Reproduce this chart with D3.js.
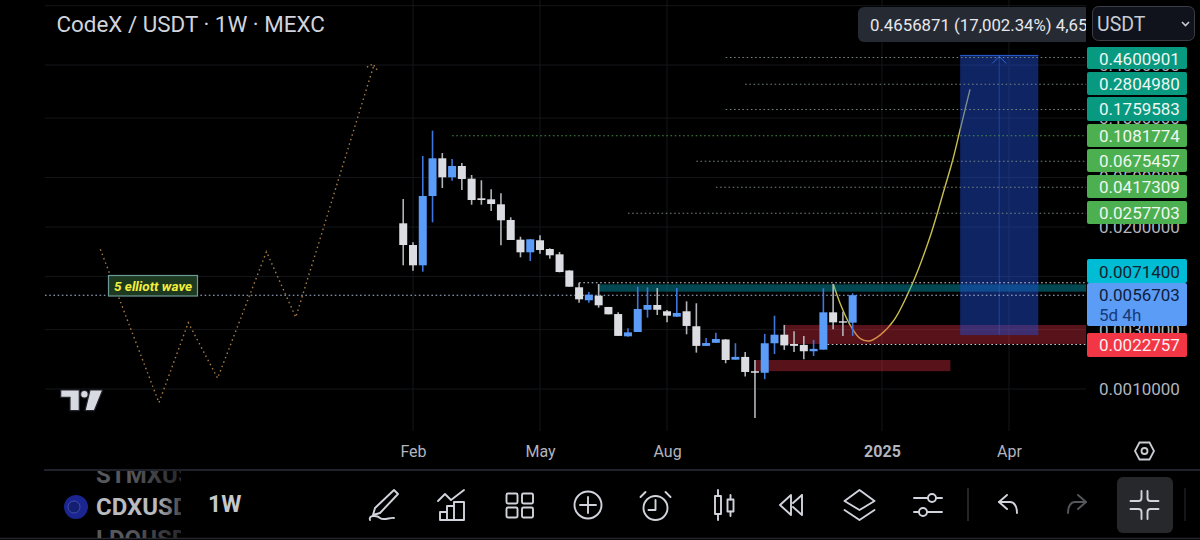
<!DOCTYPE html>
<html><head><meta charset="utf-8">
<style>
html,body{margin:0;padding:0;background:#000;overflow:hidden}
svg{display:block}
text{font-family:Roboto,sans-serif}
</style>
<script src="https://cdnjs.cloudflare.com/ajax/libs/d3/7.8.5/d3.min.js"></script>
</head><body>
<script>
// ---------- data ----------
const firstWeek = "2024-01-29";
const opens  = [.02142,.01434,.00985,.0355,.07128,.05017,.06182,.0489,.03402,.03339,.03044,.02277,.01582,.01253,.01565,.01332,.01207,.00895,.00656,.00516,.00562,.00456,.0040,.00265,.00287,.00433,.00473,.00421,.00381,.00421,.00319,.00222,.00235,.0025,.00172,.00181,.00139,.00135,.00233,.00273,.0023,.00226,.00201,.00207,.00413,.0035,.00341];
const closes = [.01434,.00985,.0355,.07128,.05017,.06182,.04861,.03296,.03296,.03061,.02265,.01573,.01253,.01594,.01307,.01186,.0087,.00663,.00525,.00572,.0047,.00398,.00267,.00285,.00439,.00473,.00433,.00388,.00408,.00321,.00222,.00234,.00252,.00171,.00181,.00137,.00135,.00233,.00273,.00224,.00222,.00201,.0021,.00413,.00343,.00341,.0056703];
const highs  = [.03358,.01508,.07438,.1188,.07863,.07036,.06534,.05235,.04746,.04018,.03732,.02394,.01672,.016,.01716,.01349,.0126,.00898,.00714,.00601,.00697,.00456,.00413,.00307,.00663,.00656,.00648,.00431,.00648,.00506,.00488,.00257,.00283,.00251,.00233,.00198,.00171,.00277,.00388,.00327,.00291,.00267,.00248,.00644,.00697,.00418,.00587];
const lows   = [.00985,.00892,.00875,.02182,.04116,.04711,.03966,.03022,.03022,.02689,.01426,.01573,.01142,.01067,.01221,.01113,.00865,.00663,.00493,.00493,.0045,.00398,.00267,.00263,.00287,.00374,.00393,.00343,.00378,.00275,.00196,.00221,.00235,.00161,.00172,.00126,.000585,.0012,.00191,.00206,.00198,.00173,.00184,.00207,.00302,.00267,.00267];

const gridPrices = [.001,.003,.008,.02,.05,.15,.4,1.2];
const priceTicks = [.001,.003,.008,.02,.05,.15,.4];
const timeTickDates = ["2024-02-05","2024-05-06","2024-08-05","2025-01-06","2025-04-07"];
const timeTickLabels = ["Feb","May","Aug","2025","Apr"];

const waveDates  = ["2023-06-26","2023-08-07","2023-08-28","2023-09-18","2023-10-23","2023-11-13","2024-01-08"];
const wavePrices = [.01325,.000776,.00341,.00122,.01267,.00377,.400];

const curveWeeks  = [43.02,43.7,44.73,45.75,46.7,47.8,49.23,51.2,52.92,54.45,55.24,55.99,57.01]; // weeks after 2024-02-05
const curvePrices = [.00697,.00491,.00327,.00255,.00243,.00271,.00358,.00728,.01672,.04216,.06907,.1203,.2554];

const targetPrices = [.4600901,.2804980,.1759583,.1081774,.0675457,.0417309,.0257703];
const targetStarts = ["2024-09-16","2024-09-30","2024-09-16","2024-03-04","2024-08-26","2024-09-09","2024-07-08"];

const lastPrice = .0056703, resistance = .00714, support = .0022757;
const resistanceStart = "2024-06-03", supportStart = "2024-11-25";
const tealZone = {start:"2024-06-17", top:.00693, bottom:.00605};
const redZoneA = {start:"2024-10-28", top:.00327, bottom:.0023};
const redZoneB = {start:"2024-10-07", end:"2025-02-24", top:.00171, bottom:.00139};
const projection = {start:"2025-03-03", mid:"2025-03-31", end:"2025-04-28", top:.478, bottom:.00271};

const targetLabels = ["0.4600901","0.2804980","0.1759583","0.1081774","0.0675457","0.0417309","0.0257703"];

// ---------- setup ----------
const W=1200,H=540;
const parse=d3.utcParse("%Y-%m-%d");
const svg=d3.select("body").append("svg").attr("width",W).attr("height",H).style("background","#000");
const x=d3.scaleUtc().domain([parse("2024-02-05"),parse("2025-04-07")]).range([413,1009]);
const y=d3.scaleLog().domain([.001,.1]).range([389,140]);
const L=45,R=1086,gridBottom=431;
const weekAfter=(d,w)=>new Date(+d+w*7*864e5);

const defs=svg.append("defs");
defs.append("clipPath").attr("id","plot").append("rect").attr("x",L).attr("y",0).attr("width",R-L).attr("height",gridBottom);
defs.append("clipPath").attr("id","tip").append("rect").attr("x",858).attr("y",7).attr("width",228).attr("height",35);
defs.append("clipPath").attr("id","sym").append("rect").attr("x",90).attr("y",471).attr("width",91).attr("height",67);
const gr=defs.append("linearGradient").attr("id","fade").attr("gradientUnits","userSpaceOnUse").attr("x1",156).attr("x2",182).attr("y1",0).attr("y2",0);
gr.append("stop").attr("offset",0).attr("stop-color","#b9bbc0");
gr.append("stop").attr("offset",1).attr("stop-color","#3a3b3e");
const gr2=defs.append("linearGradient").attr("id","fade2").attr("gradientUnits","userSpaceOnUse").attr("x1",130).attr("x2",182).attr("y1",0).attr("y2",0);
gr2.append("stop").attr("offset",0).attr("stop-color","#57585c");
gr2.append("stop").attr("offset",1).attr("stop-color","#26272a");

// ---------- grid ----------
const grid=svg.append("g");
grid.selectAll("line.h").data(gridPrices).join("line").attr("class","h").attr("x1",L).attr("x2",R).attr("y1",d=>y(d)).attr("y2",d=>y(d)).attr("stroke","#151619");
grid.selectAll("line.v").data(timeTickDates).join("line").attr("class","v").attr("y1",0).attr("y2",gridBottom).attr("x1",d=>x(parse(d))).attr("x2",d=>x(parse(d))).attr("stroke","#151619");

// ---------- price axis ----------
const yAxis=svg.append("g").attr("transform","translate(1086,0)").call(d3.axisRight(y).tickValues(priceTicks).tickFormat(d3.format(".7f")).tickSize(0).tickPadding(13));
yAxis.select(".domain").remove();
yAxis.selectAll("text").attr("fill","#b2b5be").style("font-size","17px").style("font-family","Roboto");

// ---------- time axis ----------
const xAxis=svg.append("g").attr("transform","translate(0,451)").call(d3.axisBottom(x).tickValues(timeTickDates.map(parse)).tickFormat((d,i)=>timeTickLabels[i]).tickSize(0).tickPadding(0));
xAxis.select(".domain").remove();
xAxis.selectAll("text").attr("dy","0.36em").attr("fill","#b2b5be").style("font-size","16px").style("font-family","Roboto")
  .style("font-weight",(d,i)=>timeTickLabels[i]==="2025"?"700":"400");

const plot=svg.append("g").attr("clip-path","url(#plot)");

// ---------- projected curve (sits below the zones) ----------
const curveBase=parse("2024-02-05");
plot.append("path").datum(curveWeeks.map((w,i)=>[weekAfter(curveBase,w),curvePrices[i]]))
  .attr("fill","none").attr("stroke","#c9be4e").attr("stroke-width",1.4)
  .attr("d",d3.line().x(d=>x(d[0])).y(d=>y(d[1])).curve(d3.curveCatmullRom));

// ---------- zones ----------
function zone(z,fill,op){
  const x0=x(parse(z.start)),x1=z.end?x(parse(z.end)):R;
  plot.append("rect").attr("x",x0).attr("width",x1-x0).attr("y",y(z.top)).attr("height",y(z.bottom)-y(z.top)).attr("fill",fill).attr("opacity",op);
}
zone(tealZone,"#00bcd4",.38);
zone(redZoneA,"#f23645",.36);
zone(redZoneB,"#f23645",.36);
zone({start:projection.start,end:projection.end,top:projection.top,bottom:projection.bottom},"#2150dc",.45);

const mid=x(parse(projection.mid));
plot.append("line").attr("x1",mid).attr("x2",mid).attr("y1",y(projection.top)).attr("y2",y(projection.bottom)).attr("stroke","#2f66d8").attr("stroke-width",1).attr("opacity",.5);
plot.append("path").attr("fill","none").attr("stroke","#2f66d8").attr("stroke-width",1)
  .attr("d",`M${mid-7},${y(projection.top)+8}L${mid},${y(projection.top)+1}L${mid+7},${y(projection.top)+8}`);
plot.append("line").attr("x1",x(parse(projection.start))).attr("x2",x(parse(projection.end))).attr("y1",y(projection.top)).attr("y2",y(projection.top)).attr("stroke","#2a5fd8");

// ---------- dotted levels ----------
function dotted(v,start,col,op){
  plot.append("line").attr("x1",start).attr("x2",R).attr("y1",y(v)).attr("y2",y(v))
    .attr("stroke",col).attr("stroke-width",1.1).attr("stroke-dasharray","1.6 2.6").attr("opacity",op||1);
}
targetPrices.forEach((v,i)=>dotted(v,x(parse(targetStarts[i])),i===3?"#4f9a4f":"#7f8f85",.9));
dotted(resistance,x(parse(resistanceStart)),"#c9ced6");
dotted(support,x(parse(supportStart)),"#c9ced6");
dotted(lastPrice,L,"#a9b8d6");

// ---------- candles ----------
const candles=opens.map((o,i)=>({d:d3.utcDay.offset(parse(firstWeek),i*7),o,c:closes[i],h:highs[i],l:lows[i]}));
const cg=svg.append("g").selectAll("g").data(candles).join("g");
cg.append("line").attr("x1",d=>x(d.d)).attr("x2",d=>x(d.d)).attr("y1",d=>y(d.h)).attr("y2",d=>y(d.l))
  .attr("stroke",d=>d.c>=d.o?"#3f76dc":"#b3b5bb").attr("stroke-width",1.6);
cg.append("rect").attr("x",d=>x(d.d)-4).attr("width",8)
  .attr("y",d=>Math.min(y(d.o),y(d.c))).attr("height",d=>Math.max(1.2,Math.abs(y(d.o)-y(d.c))))
  .attr("fill",d=>d.c>=d.o?"#5a9cf8":"#dcdde2");

// ---------- elliott wave ----------
const wavePts=waveDates.map((d,i)=>[parse(d),wavePrices[i]]);
plot.append("path").datum(wavePts).attr("fill","none").attr("stroke","#a47c45").attr("stroke-width",1.4).attr("stroke-dasharray","1.5 3.2")
  .attr("d",d3.line().x(d=>x(d[0])).y(d=>y(d[1])));
const tipX=x(wavePts[6][0]),tipY=y(wavePts[6][1]);
plot.append("path").attr("fill","none").attr("stroke","#a47c45").attr("stroke-width",1.4).attr("stroke-dasharray","1.5 2.6")
  .attr("d",`M${tipX-7},${tipY+2}L${tipX-1},${tipY-1}L${tipX+4},${tipY+6}`);

svg.append("rect").attr("x",108.5).attr("y",275.5).attr("width",89).attr("height",20.5).attr("fill","#1d3a20").attr("stroke","#6d9a98").attr("stroke-width",1.2);
svg.append("text").attr("x",153).attr("y",286).attr("dy","0.36em").attr("text-anchor","middle").attr("fill","#f5ee3b")
  .style("font-size","13.5px").style("font-weight","700").style("font-style","italic").text("5 elliott wave");

// ---------- TradingView logo ----------
const logo=svg.append("g").attr("fill","#d8dae2").attr("stroke","#23242c").attr("stroke-width",1.2);
logo.append("path").attr("d","M60.7,390H79.3V410.7H70V397.3H60.7Z");
logo.append("circle").attr("cx",84.4).attr("cy",394.3).attr("r",3.8);
logo.append("path").attr("d","M90,390H102.7L94.3,410.7H85Z");

// ---------- title ----------
svg.append("text").attr("x",56.5).attr("y",24).attr("dy","0.36em").attr("fill","#d1d4dc").style("font-size","22.4px").text("CodeX / USDT · 1W · MEXC");

// ---------- tooltip + currency ----------
svg.append("path").attr("d","M1086,7H864a6,6 0 0 0 -6,6V36a6,6 0 0 0 6,6H1086Z").attr("fill","#262a33");
svg.append("text").attr("clip-path","url(#tip)").attr("x",870).attr("y",25).attr("dy","0.36em").attr("fill","#e6e8ee").style("font-size","16.8px").text("0.4656871 (17,002.34%) 4,65");
svg.append("rect").attr("x",1092.5).attr("y",6.5).attr("width",102).attr("height",34).attr("rx",6).attr("fill","#10131b").attr("stroke","#3b3e47");
svg.append("text").attr("x",1097).attr("y",24).attr("dy","0.36em").attr("fill","#c8cbd3").style("font-size","19.5px").text("USDT");
svg.append("path").attr("d","M1182,22l3.5,3.5l3.5,-3.5").attr("fill","none").attr("stroke","#c8cbd3").attr("stroke-width",1.6);

// ---------- price labels ----------
const labelTops=[47,72,97,124,149,175,201];
const labelFill=["#089981","#089981","#089981","#4caf50","#4caf50","#4caf50","#4caf50"];
function tag(top,h,fill){svg.append("rect").attr("x",1087).attr("y",top).attr("width",100).attr("height",h).attr("rx",2).attr("fill",fill);}
function tagText(cy,t,c){svg.append("text").attr("x",1099).attr("y",cy).attr("dy","0.36em").attr("fill",c).style("font-size","17px").text(t);}
targetLabels.forEach((t,i)=>{tag(labelTops[i],i==0?22:(i==2?24:23),labelFill[i]);tagText(labelTops[i]+11.5,t,"#eef6f0");});
tag(259,24,"#00bcd4");tagText(271.5,d3.format(".7f")(resistance),"#10222c");
tag(283,43,"#5b9cf6");tagText(295,d3.format(".7f")(lastPrice),"#0f1c3c");tagText(315,"5d 4h","#173a78");
tag(333,24,"#f23645");tagText(345,d3.format(".7f")(support),"#fdeef0");

// ---------- separators ----------
svg.append("line").attr("x1",44).attr("x2",W).attr("y1",470).attr("y2",470).attr("stroke","#2a2e39").attr("stroke-width",1.4);
svg.append("line").attr("x1",0).attr("x2",W).attr("y1",538.5).attr("y2",538.5).attr("stroke","#25272d").attr("stroke-width",1.4);

// ---------- hex settings icon ----------
const hex=svg.append("g").attr("transform","translate(1144.5,451)").attr("fill","none").attr("stroke","#c9ccd3").attr("stroke-width",1.8);
hex.append("path").attr("d","M-9.5,0L-5,-8.5H5L9.5,0L5,8.5H-5Z");
hex.append("circle").attr("r",3);

// ---------- symbol strip ----------
svg.append("circle").attr("cx",76).attr("cy",507).attr("r",12).attr("fill","#1a2590");
svg.append("circle").attr("cx",74).attr("cy",507).attr("r",6).attr("fill","#151f72").attr("stroke","#4a58b4").attr("stroke-width",.8);
const sym=svg.append("g").attr("clip-path","url(#sym)").style("font-weight","700").style("font-size","24px");
sym.append("text").attr("x",96).attr("y",483).attr("fill","url(#fade2)").text("STMXUSDT");
sym.append("text").attr("x",96).attr("y",515).attr("fill","url(#fade)").text("CDXUSDT");
sym.append("text").attr("x",96).attr("y",547).attr("fill","url(#fade2)").text("LDOUSDT");
svg.append("text").attr("x",208).attr("y",512).attr("fill","#c6c8cc").style("font-weight","700").style("font-size","23px").text("1W");

// ---------- toolbar ----------
svg.append("rect").attr("x",1117).attr("y",477).attr("width",56).attr("height",56).attr("rx",6).attr("fill","#27282c");
[[968,"#34363c"],[1185,"#1f2024"]].forEach(([px,c])=>svg.append("line").attr("x1",px).attr("x2",px).attr("y1",488).attr("y2",521).attr("stroke",c).attr("stroke-width",1.4));
const icons=[
 [385,505,["M9,-15L13,-11L-5,8L-12,10L-10,3Z","M-15,15C-17,10 -8,10 -5,13C-1,16 5,12 9,13"]],
 [452,505,["M-12,15V7H-5V15ZM-5,15V1H2V15ZM2,15V-3H12V15Z","M-14,-4L-7,-11L-1,-5L12,-15"]],
 [519.5,505,["M-11.5,-11.5h8a1.5,1.5 0 0 1 1.5,1.5v7a1.5,1.5 0 0 1 -1.5,1.5h-8a1.5,1.5 0 0 1 -1.5,-1.5v-7a1.5,1.5 0 0 1 1.5,-1.5Z","M4,-11.5h8a1.5,1.5 0 0 1 1.5,1.5v7a1.5,1.5 0 0 1 -1.5,1.5h-8a1.5,1.5 0 0 1 -1.5,-1.5v-7a1.5,1.5 0 0 1 1.5,-1.5Z","M-11.5,2.5h8a1.5,1.5 0 0 1 1.5,1.5v7a1.5,1.5 0 0 1 -1.5,1.5h-8a1.5,1.5 0 0 1 -1.5,-1.5v-7a1.5,1.5 0 0 1 1.5,-1.5Z","M4,2.5h8a1.5,1.5 0 0 1 1.5,1.5v7a1.5,1.5 0 0 1 -1.5,1.5h-8a1.5,1.5 0 0 1 -1.5,-1.5v-7a1.5,1.5 0 0 1 1.5,-1.5Z"]],
 [588,505,["M-13.5,0a13.5,13.5 0 1 0 27,0a13.5,13.5 0 1 0 -27,0","M0,-8V8M-8,0H8"]],
 [655.5,505,["M-12,3a12,12 0 1 0 24,0a12,12 0 1 0 -24,0","M0,-5V5H-7","M-10,-13L-15,-8M10,-13L15,-8"]],
 [724.5,505,["M-9.5,-9h6v18h-6Z","M-6.5,-15V-9M-6.5,9V15","M3,-5.5h6v12h-6Z","M6,-10V-5.5M6,6.5V11"]],
 [791,505,["M0,-10L-11,0L0,10Z","M11,-10L2,-2M2,2L11,10V-10"]],
 [859.5,505,["M0,-15L15,-4L0,5L-15,-4Z","M-15,5L0,15L15,5"]],
 [928,505,["M-14,-7H0M8,-7H14","M0,-7a4,4 0 1 0 8,0a4,4 0 1 0 -8,0","M-14,7H-9M-1,7H14","M-9,7a4,4 0 1 0 8,0a4,4 0 1 0 -8,0"]],
 [1008,505,["M-1,-10L-9,-3L-1,4","M-9,-3H2C6,-3 9,1 9,8"]],
 [1077,505,["M1,-10L9,-3L1,4","M9,-3H-2C-6,-3 -9,1 -9,8"],"#55575c"],
 [1144.5,505,["M-3,-14V-7Q-3,-4 -6,-4H-14","M3,-14V-7Q3,-4 6,-4H14","M-3,14V7Q-3,4 -6,4H-14","M3,14V7Q3,4 6,4H14"]]
];
icons.forEach(([cx,cy,paths,col])=>{
  const g=svg.append("g").attr("transform",`translate(${cx},${cy})`).attr("fill","none").attr("stroke",col||"#d1d4dc").attr("stroke-width",1.9).attr("stroke-linecap","round").attr("stroke-linejoin","round");
  paths.forEach(p=>g.append("path").attr("d",p));
});
</script>
</body></html>
